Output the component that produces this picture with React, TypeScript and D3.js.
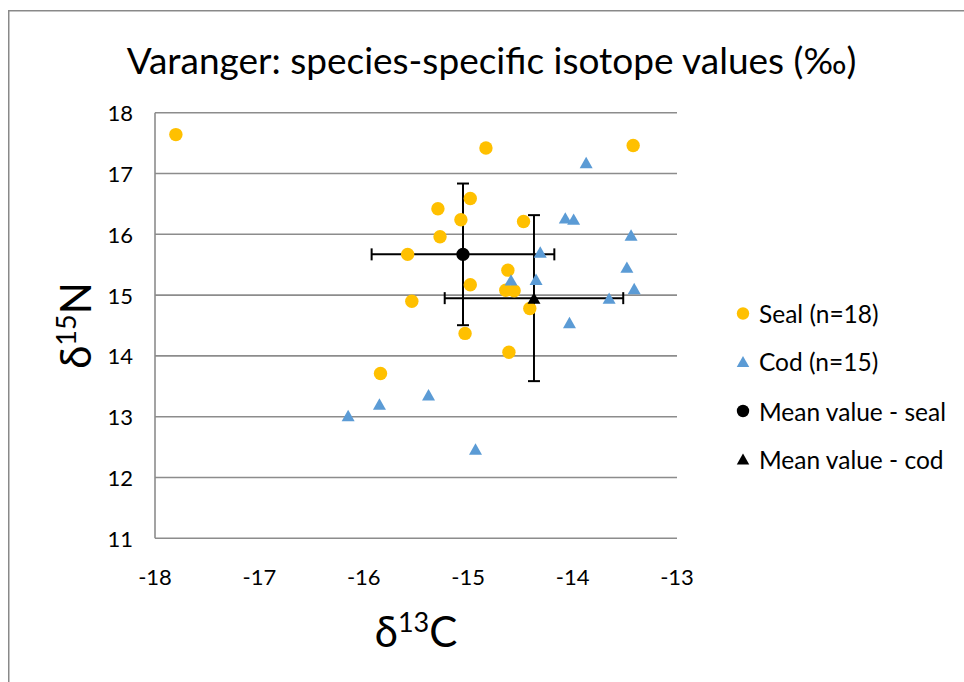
import React from 'react';
import * as d3 from 'd3';

const sealC13 = [-17.8, -14.83, -13.42, -14.98, -15.29, -15.07, -14.47, -15.27, -15.58, -14.62, -14.98, -14.64, -14.56, -15.54, -14.41, -15.03, -14.61, -15.84];
const sealN15 = [17.64, 17.42, 17.46, 16.59, 16.42, 16.24, 16.21, 15.96, 15.67, 15.41, 15.17, 15.08, 15.07, 14.9, 14.78, 14.37, 14.06, 13.71];

const codC13 = [-13.87, -14.07, -13.99, -13.44, -14.31, -13.48, -14.59, -14.35, -13.41, -13.65, -14.03, -16.15, -15.85, -15.38, -14.93];
const codN15 = [17.18, 16.27, 16.25, 15.99, 15.71, 15.46, 15.25, 15.26, 15.11, 14.95, 14.55, 13.02, 13.21, 13.36, 12.47];

const meanNames = ['seal', 'cod'];
const meanC13 = [-15.05, -14.37];
const meanN15 = [15.67, 14.95];
const meanC13Err = [0.875, 0.855];
const meanN15Err = [1.165, 1.365];

const xTicks = [-18, -17, -16, -15, -14, -13];
const yTicks = [11, 12, 13, 14, 15, 16, 17, 18];

const legendLabels = ['Seal (n=18)', 'Cod (n=15)', 'Mean value - seal', 'Mean value - cod'];
const titleText = 'Varanger: species-specific isotope values (‰)';

const FONT = "Lato, 'Open Sans', sans-serif";
const SEAL = '#FFC000';
const COD = '#5B9BD5';
const GRID = '#8c8c8c';

// triangle centred on its bounding box
const triType = {
  draw(ctx: any, size: number) {
    const w = Math.sqrt(size);
    const h = w * 0.88;
    ctx.moveTo(0, -h / 2);
    ctx.lineTo(w / 2, h / 2);
    ctx.lineTo(-w / 2, h / 2);
    ctx.closePath();
  },
};

export default function App() {
  const x = d3.scaleLinear().domain([-18, -13]).range([155, 677]);
  const y = d3.scaleLinear().domain([11, 18]).range([538.3, 112.7]);
  const tri = d3.symbol().type(triType as any).size(13 * 13)() as string;
  const triLeg = d3.symbol().type(triType as any).size(12.5 * 12.5)() as string;
  const cap = 6;

  const legendY = [313.5, 361.5, 411, 459];

  return (
    <svg
      width={964}
      height={682}
      style={{ position: 'absolute', left: 0, top: 0, background: '#fff' }}
      fontFamily={FONT}
    >
      <rect x={0} y={0} width={964} height={682} fill="#fff" />
      <rect x={8.75} y={10.75} width={1200} height={1200} fill="none" stroke="#898989" strokeWidth={1.5} />

      <text x={491.5} y={59} textAnchor="middle" dominantBaseline="central" fontSize={37} fill="#000">
        {titleText}
      </text>

      {/* grid */}
      {yTicks.map((t) => (
        <line key={'g' + t} x1={x(-18)} x2={x(-13)} y1={y(t)} y2={y(t)} stroke={GRID} strokeWidth={1.6} />
      ))}
      <line x1={x(-18)} x2={x(-18)} y1={y(18)} y2={y(11)} stroke={GRID} strokeWidth={1.6} />

      {yTicks.map((t) => (
        <text key={'yt' + t} x={133} y={y(t)} textAnchor="end" dominantBaseline="central" fontSize={22} fill="#000">
          {t}
        </text>
      ))}
      {xTicks.map((t) => (
        <text key={'xt' + t} x={x(t)} y={576} textAnchor="middle" dominantBaseline="central" fontSize={22} fill="#000">
          {t}
        </text>
      ))}

      {/* axis titles */}
      <text x={416} y={647} textAnchor="middle" fontSize={42} fill="#000">
        δ<tspan fontSize={27} dy={-15}>13</tspan>
        <tspan dy={15}>C</tspan>
      </text>
      <text transform={`translate(91, ${(y(11) + y(18)) / 2}) rotate(-90)`} textAnchor="middle" fontSize={42} fill="#000">
        δ<tspan fontSize={27} dy={-15}>15</tspan>
        <tspan dy={15}>N</tspan>
      </text>

      {/* error bars */}
      {meanC13.map((c, i) => {
        const cx = x(c);
        const cy = y(meanN15[i]);
        const x0 = x(c - meanC13Err[i]);
        const x1 = x(c + meanC13Err[i]);
        const y0 = y(meanN15[i] + meanN15Err[i]);
        const y1 = y(meanN15[i] - meanN15Err[i]);
        return (
          <g key={'eb' + meanNames[i]} stroke="#000" strokeWidth={2}>
            <line x1={x0} x2={x1} y1={cy} y2={cy} />
            <line x1={x0} x2={x0} y1={cy - cap} y2={cy + cap} />
            <line x1={x1} x2={x1} y1={cy - cap} y2={cy + cap} />
            <line x1={cx} x2={cx} y1={y0} y2={y1} />
            <line x1={cx - cap} x2={cx + cap} y1={y0} y2={y0} />
            <line x1={cx - cap} x2={cx + cap} y1={y1} y2={y1} />
          </g>
        );
      })}

      {/* seal points */}
      {sealC13.map((c, i) => (
        <circle key={'s' + i} cx={x(c)} cy={y(sealN15[i])} r={6.7} fill={SEAL} />
      ))}
      {/* cod points */}
      {codC13.map((c, i) => (
        <path key={'c' + i} d={tri} transform={`translate(${x(c)}, ${y(codN15[i])})`} fill={COD} />
      ))}

      {/* means */}
      <circle cx={x(meanC13[0])} cy={y(meanN15[0])} r={6.7} fill="#000" />
      <path d={tri} transform={`translate(${x(meanC13[1])}, ${y(meanN15[1])})`} fill="#000" />

      {/* legend */}
      <circle cx={743} cy={legendY[0]} r={6.2} fill={SEAL} />
      <path d={triLeg} transform={`translate(743, ${legendY[1]})`} fill={COD} />
      <circle cx={743} cy={legendY[2]} r={6.2} fill="#000" />
      <path d={triLeg} transform={`translate(743, ${legendY[3]})`} fill="#000" />
      {legendLabels.map((l, i) => (
        <text key={'l' + i} x={759} y={legendY[i]} dominantBaseline="central" fontSize={24.5} fill="#000">
          {l}
        </text>
      ))}
    </svg>
  );
}
